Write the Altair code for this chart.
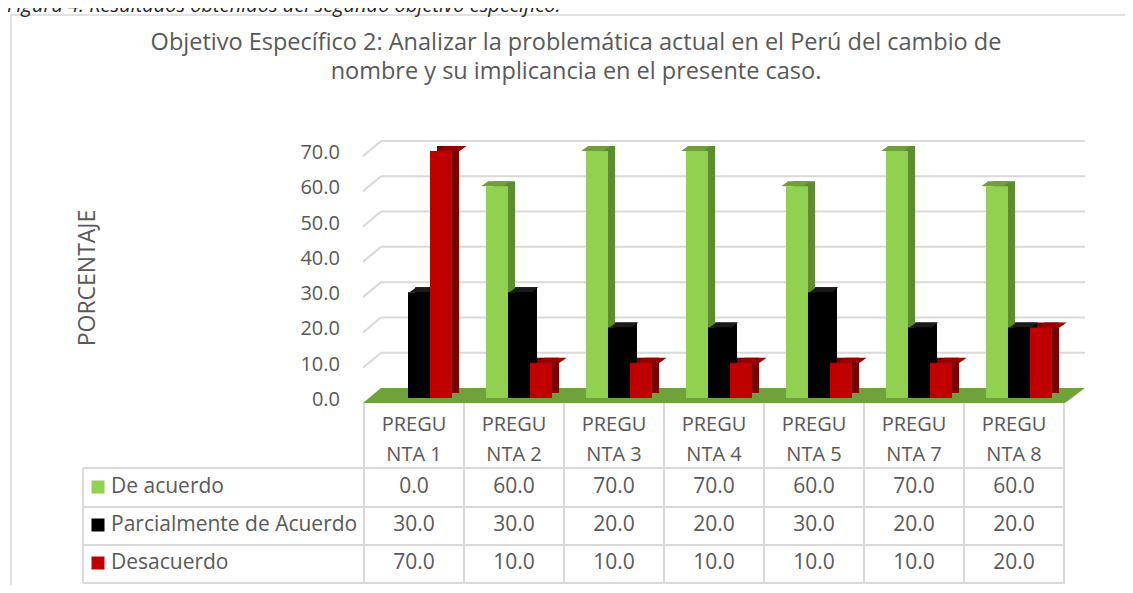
import altair as alt
import pandas as pd

# ---------------- data ----------------
categorias = ["PREGUNTA 1", "PREGUNTA 2", "PREGUNTA 3", "PREGUNTA 4",
              "PREGUNTA 5", "PREGUNTA 7", "PREGUNTA 8"]
encabezados = ["PREGU\nNTA 1", "PREGU\nNTA 2", "PREGU\nNTA 3", "PREGU\nNTA 4",
               "PREGU\nNTA 5", "PREGU\nNTA 7", "PREGU\nNTA 8"]
series = ["De acuerdo", "Parcialmente de Acuerdo", "Desacuerdo"]
de_acuerdo = [0.0, 60.0, 70.0, 70.0, 60.0, 70.0, 60.0]
parcialmente = [30.0, 30.0, 20.0, 20.0, 30.0, 20.0, 20.0]
desacuerdo = [70.0, 10.0, 10.0, 10.0, 10.0, 10.0, 20.0]
ticks_y = [0, 10, 20, 30, 40, 50, 60, 70]
titulo = ["Objetivo Específico 2: Analizar la problemática actual en el Perú del cambio de",
          "nombre y su implicancia en el presente caso."]
figura = "Figura 4. Resultados obtenidos del segundo objetivo específico."
titulo_y = "PORCENTAJE"

# ---------------- styles ----------------
FONT = "Open Sans"
GRAY = "#595959"
GRID = "#d9d9d9"
front_colors = ["#92D050", "#000000", "#C00000"]
side_colors = ["#5E8C31", "#000000", "#7A0000"]
top_colors = ["#6F9E3A", "#1A1A1A", "#960000"]

W, H = 700, 247

rows = []
for s, vals in zip(series, [de_acuerdo, parcialmente, desacuerdo]):
    for c, v in zip(categorias, vals):
        rows.append({"cat": c, "serie": s, "valor": v, "txt": f"{v:.1f}"})
df = pd.DataFrame(rows)

hdr = pd.DataFrame({"cat": categorias,
                    "l1": [e.split("\n")[0] for e in encabezados],
                    "l2": [e.split("\n")[1] for e in encabezados]})
ticks_df = pd.DataFrame({"v": ticks_y})
grid_df = pd.DataFrame({"v": [t for t in ticks_y if t > 0]})

X = alt.X("cat:N", sort=categorias,
          scale=alt.Scale(domain=categorias, paddingInner=0, paddingOuter=0),
          axis=None)
XO = alt.XOffset("serie:N", sort=series,
                 scale=alt.Scale(domain=series, paddingInner=0,
                                 paddingOuter=0.7727, align=0.647))
# side faces: same band layout shifted 7px to the right
XO_side = alt.XOffset("serie:N", sort=series,
                      scale=alt.Scale(domain=series, paddingInner=0,
                                      paddingOuter=0.7727, align=29 / 34))
yscale = alt.Scale(domain=[0, 70], nice=False, zero=True)

one = pd.DataFrame({"a": [0]})

# frame
frame = alt.Chart(one).mark_rect(
    fill=None, stroke=GRID, strokeWidth=1.5
).encode(x=alt.value(-353), x2=alt.value(790), y=alt.value(-136), y2=alt.value(460))

fig_text = alt.Chart(pd.DataFrame({"t": [figura]})).mark_text(
    font=FONT, fontSize=20, fontStyle="italic", color="#262626",
    align="left", baseline="alphabetic"
).encode(x=alt.value(-357), y=alt.value(-139), text="t:N")

title_df = pd.DataFrame({"t": titulo})
title_l1 = alt.Chart(title_df.iloc[[0]]).mark_text(
    font=FONT, fontSize=23.5, color=GRAY, align="center", baseline="middle"
).encode(x=alt.value(212), y=alt.value(-108), text="t:N")
title_l2 = alt.Chart(title_df.iloc[[1]]).mark_text(
    font=FONT, fontSize=23.5, color=GRAY, align="center", baseline="middle"
).encode(x=alt.value(212), y=alt.value(-79), text="t:N")

# y labels and title (drawn as text through the y scale)
y_labels = alt.Chart(ticks_df).mark_text(
    font=FONT, fontSize=20, color=GRAY, align="right", baseline="middle", dy=2
).encode(x=alt.value(-24), y=alt.Y("v:Q", scale=yscale, axis=None),
         text=alt.Text("v:Q", format=".1f"))
y_title = alt.Chart(pd.DataFrame({"t": [titulo_y]})).mark_text(
    font=FONT, fontSize=23, color=GRAY, align="center", baseline="middle", angle=270
).encode(x=alt.value(-276), y=alt.value(127), text="t:N")

# gridlines (back wall + left side)
grid_back = alt.Chart(grid_df).mark_rule(color=GRID, strokeWidth=2, yOffset=-10).encode(
    y=alt.Y("v:Q", scale=yscale, axis=None), x=alt.value(17), x2=alt.value(721))
grid_side = alt.Chart(grid_df).mark_rule(color=GRID, strokeWidth=2, yOffset=5, y2Offset=-10).encode(
    y=alt.Y("v:Q", scale=yscale, axis=None), y2="v:Q", x=alt.value(-1), x2=alt.value(17))

# floor
floor = alt.Chart(one).mark_point(
    shape="M-1,5 L701,5 L721,-10 L17,-10 Z", size=4, filled=True,
    opacity=1, color="#70A23A", strokeWidth=0
).encode(x=alt.value(0), y=alt.Y(datum=0, scale=yscale, axis=None))

# bars: side, top, front
sides = alt.Chart(df).mark_bar(yOffset=-5, y2Offset=-3).encode(
    x=X, xOffset=XO_side,
    y=alt.Y("valor:Q", scale=yscale, axis=None),
    color=alt.Color("serie:N", sort=series,
                    scale=alt.Scale(domain=series, range=side_colors), legend=None))

tops = alt.Chart(df).transform_filter("datum.valor > 0").mark_point(
    shape="M-11,0 L11,0 L18,-5 L-4,-5 Z", size=4, filled=True, opacity=1, strokeWidth=0
).encode(
    x=X, xOffset=XO,
    y=alt.Y("valor:Q", scale=yscale, axis=None),
    color=alt.Color("serie:N", sort=series,
                    scale=alt.Scale(domain=series, range=top_colors), legend=None))

fronts = alt.Chart(df).mark_bar().encode(
    x=X, xOffset=XO,
    y=alt.Y("valor:Q", scale=yscale, axis=None),
    color=alt.Color("serie:N", sort=series,
                    scale=alt.Scale(domain=series, range=front_colors), legend=None))

# table
tbl_layers = []
for yy in [317, 356, 394, 432]:
    tbl_layers.append(alt.Chart(one).mark_rule(color=GRID, strokeWidth=2).encode(
        y=alt.value(yy), x=alt.value(-281), x2=alt.value(701)))
vlines = alt.Chart(hdr).mark_rule(color=GRID, strokeWidth=2).encode(
    x=alt.X("cat:N", sort=categorias, bandPosition=0), y=alt.value(252), y2=alt.value(432))
vlast = alt.Chart(hdr.iloc[[-1]]).mark_rule(color=GRID, strokeWidth=2).encode(
    x=alt.X("cat:N", sort=categorias, bandPosition=1), y=alt.value(252), y2=alt.value(432))
vleft = alt.Chart(one).mark_rule(color=GRID, strokeWidth=2).encode(
    x=alt.value(-281), y=alt.value(317), y2=alt.value(432))

hdr1 = alt.Chart(hdr).mark_text(font=FONT, fontSize=20, color=GRAY, baseline="middle").encode(
    x=alt.X("cat:N", sort=categorias), y=alt.value(274), text="l1:N")
hdr2 = alt.Chart(hdr).mark_text(font=FONT, fontSize=20, color=GRAY, baseline="middle").encode(
    x=alt.X("cat:N", sort=categorias), y=alt.value(304), text="l2:N")

row_y = [336, 374, 412]
val_layers = []
for s, yy in zip(series, row_y):
    sub = df[df["serie"] == s]
    val_layers.append(alt.Chart(sub).mark_text(font=FONT, fontSize=21, color=GRAY, baseline="middle").encode(
        x=alt.X("cat:N", sort=categorias), y=alt.value(yy), text="txt:N"))
    lab = pd.DataFrame({"serie": [s]})
    val_layers.append(alt.Chart(lab).mark_square(size=169, opacity=1).encode(
        x=alt.value(-266), y=alt.value(yy),
        color=alt.Color("serie:N", sort=series,
                        scale=alt.Scale(domain=series, range=front_colors), legend=None)))
    val_layers.append(alt.Chart(lab).mark_text(font=FONT, fontSize=21, color=GRAY,
                                               align="left", baseline="middle").encode(
        x=alt.value(-253), y=alt.value(yy), text="serie:N"))

chart = alt.layer(
    frame, fig_text, title_l1, title_l2, y_labels, y_title, grid_back, grid_side, floor,
    sides, tops, fronts, *tbl_layers, vlines, vlast, vleft, hdr1, hdr2, *val_layers
).resolve_scale(color="independent", xOffset="independent").properties(
    width=W, height=H,
    autosize=alt.AutoSizeParams(type="none"),
    padding={"left": 356, "top": 143, "right": 61, "bottom": 187},
    background="white"
).configure_view(stroke=None)

chart.save("out.html", embed_options={"renderer": "svg", "actions": False})
